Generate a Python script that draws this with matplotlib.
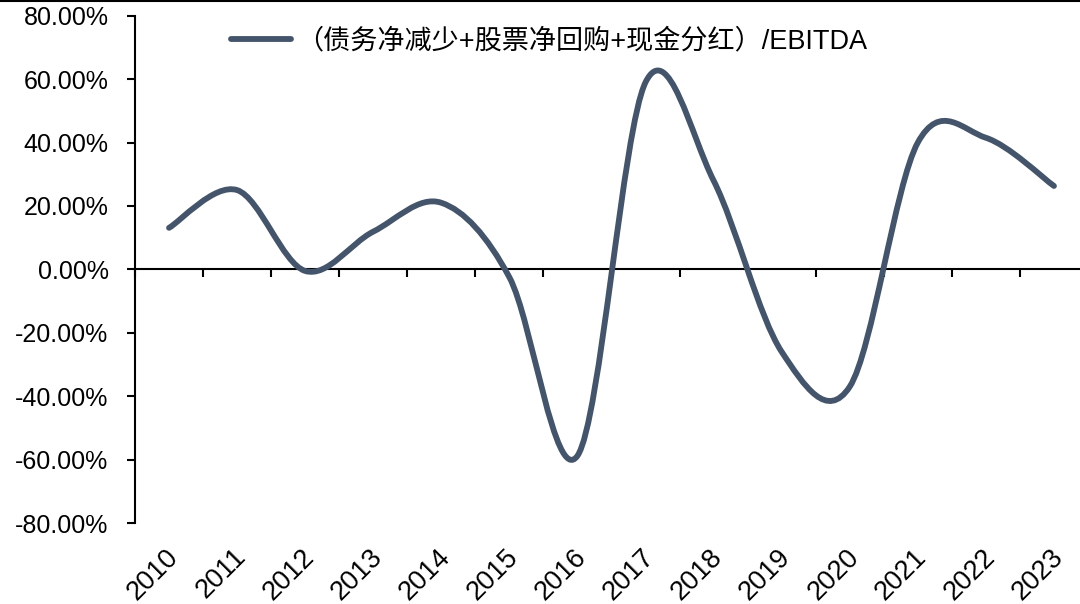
import numpy as np
import matplotlib
matplotlib.use("Agg")
import matplotlib.pyplot as plt
from matplotlib.path import Path
from matplotlib.patches import PathPatch
from matplotlib.lines import Line2D
from matplotlib.ticker import FuncFormatter, FixedLocator

plt.rcParams['font.family'] = ['Liberation Sans', 'Noto Sans CJK SC']

years = ['2010', '2011', '2012', '2013', '2014', '2015', '2016',
         '2017', '2018', '2019', '2020', '2021', '2022', '2023']
# 每年（债务净减少+股票净回购+现金分红）/EBITDA，单位 %
payout_ratio = [13.1, 25.0, -0.5, 11.9, 21.0, -2.5, -58.8,
                59.0, 28.0, -26.0, -37.0, 40.0, 41.5, 26.3]
series_name = '（债务净减少+股票净回购+现金分红）/EBITDA'
line_color = '#44546A'


def smooth_path(xs, ys):
    # Bezier smoothing through each point, tangent = (next - prev) / 6
    pts = np.column_stack([xs, ys]).astype(float)
    ext = np.vstack([pts[0], pts, pts[-1]])
    verts = [tuple(pts[0])]
    codes = [Path.MOVETO]
    for i in range(len(pts) - 1):
        p0, p1, p2, p3 = ext[i], ext[i + 1], ext[i + 2], ext[i + 3]
        c1 = p1 + (p2 - p0) / 6.0
        c2 = p2 - (p3 - p1) / 6.0
        verts += [tuple(c1), tuple(c2), tuple(p2)]
        codes += [Path.CURVE4] * 3
    return Path(verts, codes)


fig = plt.figure(figsize=(10.8, 6.04), dpi=100)
ax = fig.add_axes([0.125, 0.1341, 0.8824, 0.8399])

x = np.arange(len(years))
ax.add_patch(PathPatch(smooth_path(x, payout_ratio), fill=False,
                       edgecolor=line_color, linewidth=4.2,
                       capstyle='round', joinstyle='round', zorder=3))

ax.set_xlim(-0.5, len(years) - 0.5)
ax.set_ylim(-80, 80)
ax.set_yticks(np.arange(-80, 81, 20))
ax.yaxis.set_major_formatter(FuncFormatter(lambda v, _: f'{v:.2f}%'))
ax.tick_params(axis='y', direction='out', length=6, width=1.5,
               labelsize=18, pad=13)

# category axis drawn through zero, tick marks between categories
for s in ['top', 'right']:
    ax.spines[s].set_visible(False)
ax.spines['left'].set_linewidth(1.5)
ax.spines['bottom'].set_position(('data', 0))
ax.spines['bottom'].set_linewidth(1.5)
ax.xaxis.set_major_locator(FixedLocator(np.arange(-0.5, len(years), 1.0)))
ax.xaxis.set_ticklabels([])
ax.tick_params(axis='x', direction='out', length=6, width=1.5)

lab = ax.secondary_xaxis('bottom')
lab.set_xticks(x - 0.06, labels=years)
lab.tick_params(length=0, labelsize=19.5, pad=15)
for lbl in lab.get_xticklabels():
    lbl.set_rotation(45)
    lbl.set_ha('right')
    lbl.set_rotation_mode('anchor')
lab.spines['bottom'].set_visible(False)

handle = Line2D([], [], color=line_color, linewidth=4.2, solid_capstyle='round')
fig.legend([handle], [series_name], loc='center left',
           bbox_to_anchor=(0.214, 0.932), frameon=False,
           fontsize=19.5, handlelength=2.2, handletextpad=0.2,
           borderaxespad=0, borderpad=0)

fig.add_artist(Line2D([0, 1], [0.998, 0.998], transform=fig.transFigure,
                      color='black', linewidth=1.5))

fig.savefig('out.png', dpi=100)
